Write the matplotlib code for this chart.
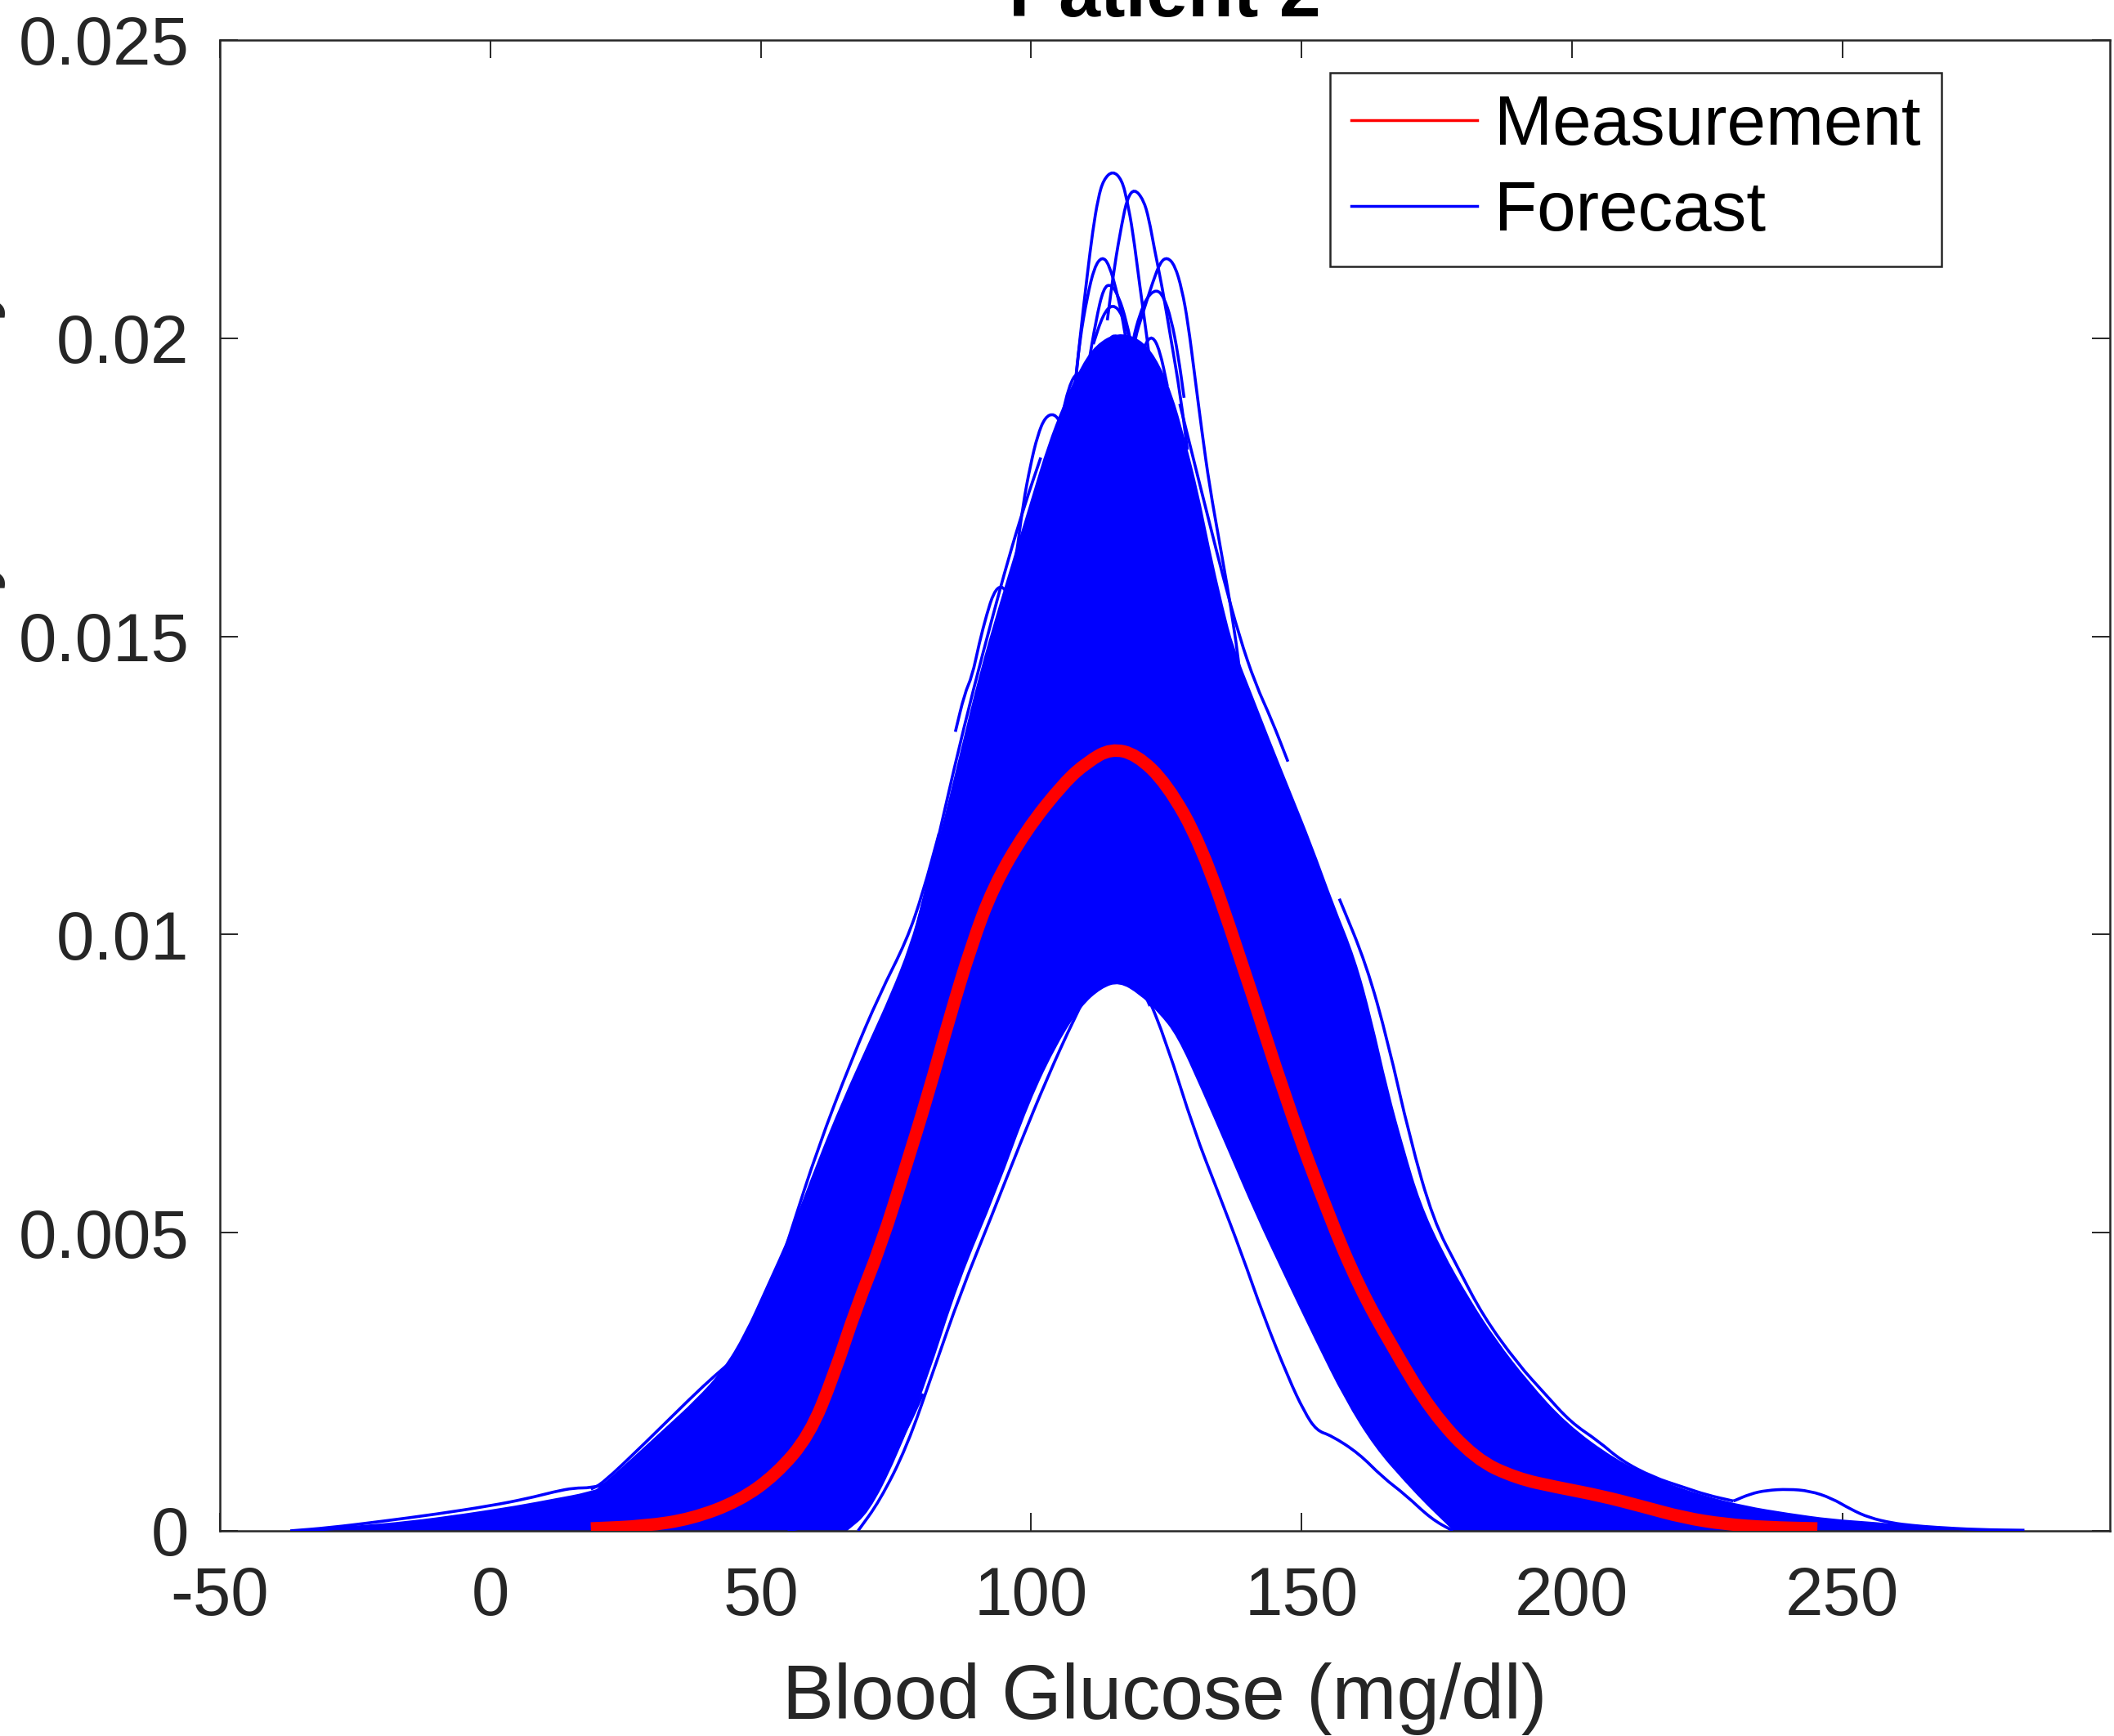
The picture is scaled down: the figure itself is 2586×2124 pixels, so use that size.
import matplotlib
matplotlib.use("Agg")
import matplotlib.pyplot as plt
from matplotlib.lines import Line2D
from matplotlib.path import Path
from matplotlib.patches import PathPatch
import numpy as np

plt.rcParams['font.family'] = ['Liberation Sans', 'DejaVu Sans']

# measured glucose density (red)
meas_x = [18.6, 28.6, 37.2, 46.0, 52.9, 59.0, 63.5, 67.7, 72.3, 76.8, 80.9, 84.9, 88.9,
          93.0, 99.0, 106.1, 110.5, 114.8, 119.5, 125.1, 131.4, 138.4, 147.6, 155.0, 160.6,
          166.7, 174.0, 182.2, 189.8, 197.3, 205.3, 213.0, 220.7, 228.4, 236.2, 245.4]
meas_y = [0.00004, 0.00008, 0.0002, 0.0005, 0.00095, 0.0016, 0.0026, 0.00375, 0.0048,
          0.0061, 0.0073, 0.0086, 0.0098, 0.0108, 0.01174, 0.01255, 0.0129, 0.01312,
          0.01302, 0.01253, 0.01152, 0.0097, 0.0071, 0.0053, 0.0041, 0.0031, 0.0020,
          0.0012, 0.00088, 0.00073, 0.00059, 0.00041, 0.00022, 0.00011, 0.00006, 0.00004]

# dense forecast band: outer edge and edge of the empty area under it
band_outer_x = [-37, -30, -20, -10, 0, 8, 14, 18.6, 21, 26, 32, 38, 43, 47, 51, 55.5, 60.5,
                65, 70, 74, 77.5, 80, 83, 87, 90.5, 94, 97, 100, 103, 106, 109, 112, 116,
                120, 123, 126, 128.5, 131, 133, 135.5, 137.5, 141, 144, 148, 152, 156, 160,
                163, 166, 169, 172, 176, 181, 186, 192, 199, 208, 216, 224, 232, 240, 248,
                256, 264, 272, 283]
band_outer_y = [0, 0.00003, 0.0001, 0.0002, 0.00032, 0.00045, 0.00055, 0.00062, 0.0008,
                0.0012, 0.0017, 0.0022, 0.0027, 0.0033, 0.0041, 0.0050, 0.0062, 0.0072,
                0.0082, 0.0090, 0.0098, 0.0106, 0.0116, 0.0131, 0.0144, 0.0155, 0.0164,
                0.0173, 0.0182, 0.0189, 0.0195, 0.0199, 0.0201, 0.0200, 0.0197, 0.0191,
                0.0183, 0.0174, 0.0165, 0.0155, 0.0148, 0.0140, 0.0133, 0.0124, 0.0115,
                0.0105, 0.0096, 0.0086, 0.0074, 0.0064, 0.0055, 0.0047, 0.0039, 0.0032,
                0.0025, 0.0018, 0.0012, 0.00085, 0.0006, 0.00042, 0.0003, 0.0002, 0.00015,
                0.00008, 0.00004, 0]
band_inner_x = [66, 70, 75, 80.7, 86.7, 93.7, 99.7, 105, 109.3, 113, 116.3, 120, 123.5,
                127, 131.5, 136.3, 141.5, 146.7, 152.5, 158, 163.5, 169.3, 173.5, 177, 178]
band_inner_y = [0, 0.0003, 0.0012, 0.0025, 0.0042, 0.0057, 0.0072, 0.0082, 0.0088, 0.0091,
                0.0092, 0.0090, 0.0087, 0.0083, 0.0074, 0.0064, 0.0053, 0.0043, 0.0032,
                0.0022, 0.0014, 0.0008, 0.0004, 0.0001, 0]

# single forecast curves that stand out of the band
curves = [
    # tall peaks
    ([108.0, 109.0, 110.4, 111.4, 112.4, 113.4, 115.1, 116.8, 117.8, 118.8, 120.1, 121.5, 122.5],
     [0.01905, 0.01997, 0.02107, 0.0218, 0.02235, 0.02266, 0.02281, 0.02266, 0.02229, 0.0218, 0.02088, 0.01997, 0.0192]),
    ([114.1, 115.4, 116.8, 117.8, 119.1, 120.8, 121.8, 122.8, 124.2, 125.9, 127.6, 128.9],
     [0.0203, 0.0212, 0.02193, 0.02235, 0.02251, 0.02232, 0.022, 0.0215, 0.02088, 0.01997, 0.01905, 0.01813]),
    ([108.0, 109.0, 110.4, 111.7, 113.1, 114.4, 116.1, 117.4, 118.5],
     [0.0191, 0.01997, 0.0207, 0.02119, 0.02137, 0.02125, 0.0207, 0.02009, 0.0194]),
    ([118.0, 119.1, 120.8, 122.5, 123.9, 125.2, 126.6, 127.9, 129.0, 130.3, 131.6, 133.0, 135.0, 137.5, 139.1],
     [0.0193, 0.01997, 0.02046, 0.02094, 0.02128, 0.02136, 0.02122, 0.02082, 0.02027, 0.01935, 0.01843, 0.01752, 0.0165, 0.0152, 0.01404]),
    ([117.8, 118.8, 120.1, 121.5, 123.2, 124.5, 125.9, 127.2, 128.3],
     [0.0193, 0.01997, 0.0204, 0.0207, 0.02082, 0.0207, 0.02033, 0.01972, 0.0190]),
    ([109.5, 111.2, 112.7, 114.2, 115.6, 117.0],
     [0.0192, 0.0196, 0.01981, 0.0197, 0.0194, 0.0189]),
    ([110.5, 112.0, 113.4, 114.8, 116.2, 117.6, 119.0],
     [0.0195, 0.0203, 0.02085, 0.02091, 0.02070, 0.0203, 0.0197]),
    ([111.5, 113.3, 115.1, 116.9, 118.5],
     [0.0199, 0.0204, 0.02058, 0.0204, 0.0199]),
    ([113.0, 114.4, 115.8, 117.2, 118.8],
     [0.0196, 0.0200, 0.02006, 0.0199, 0.0195]),
    ([119.5, 121.0, 122.4, 123.8, 125.2],
     [0.0194, 0.0199, 0.02005, 0.0198, 0.0192]),
    ([105.5, 107.0, 108.6, 110.2, 111.8],
     [0.0186, 0.0192, 0.01945, 0.0193, 0.0188]),
    ([95.8, 97.2, 98.5, 99.9, 101.2, 102.6, 104.3, 105.6, 106.6, 108.0],
     [0.01568, 0.01629, 0.01721, 0.01788, 0.01837, 0.01868, 0.01874, 0.01856, 0.01813, 0.0176]),
    ([86.0, 87.7, 89.1, 90.4, 91.8, 93.1, 94.5, 95.8, 97.0],
     [0.0134, 0.01404, 0.01433, 0.01488, 0.01537, 0.01574, 0.01586, 0.0157, 0.0154]),
    # lines along the edges of the band
    ([78.8, 81.8, 85.8, 89.3, 92.8, 95.8, 98.8, 101.8],
     [0.0101, 0.0112, 0.0128, 0.0141, 0.0153, 0.0163, 0.0172, 0.0180]),
    ([127.5, 130.5, 133.0, 135.5, 138.5, 141.5, 144.5, 147.5],
     [0.0189, 0.0178, 0.0169, 0.0160, 0.0150, 0.0142, 0.0136, 0.0129]),
    # left tail and left flank
    ([-37, -30, -20, -10, 0, 6.8, 12, 15.5, 18.6, 22],
     [0, 0.00005, 0.00016, 0.00028, 0.00042, 0.00054, 0.00066, 0.00072, 0.00072, 0.0008]),
    ([-35, -25, -15, -5, 5, 12, 18, 24],
     [0, 0.00006, 0.00014, 0.00026, 0.0004, 0.00052, 0.00062, 0.0008]),
    ([18.6, 20.7, 28.6, 37.3, 41.6, 45.1, 47.5, 50, 53],
     [0.0007, 0.00079, 0.00147, 0.00225, 0.00261, 0.00288, 0.00296, 0.0029, 0.0031]),
    ([52, 55.5, 60.5, 66.8, 72, 77, 80, 83],
     [0.0040, 0.0050, 0.0064, 0.0079, 0.0090, 0.0099, 0.0107, 0.0117]),
    # right flank and right tail
    ([157, 162, 166, 170, 174.4, 179, 183.6, 190, 195, 199.8, 205, 209.1, 215, 220.7, 225, 229.9],
     [0.0106, 0.0095, 0.0082, 0.0066, 0.0052, 0.0044, 0.0036, 0.0028, 0.0023, 0.00182, 0.0015, 0.00118, 0.0009, 0.00073, 0.0006, 0.0005]),
    ([229.9, 233, 236, 240, 244, 248, 251.6, 255, 259.3, 263, 267, 275, 283.7],
     [0.0005, 0.00062, 0.00068, 0.0007, 0.00067, 0.00055, 0.00036, 0.00022, 0.00013, 0.00009, 0.00006, 0.00002, 0.00001]),
    # low curves inside the empty area
    ([118, 121, 125, 130.2, 134.5, 138.9, 143, 147.6, 150.5, 152.8, 155.5, 160.6, 165, 169.3, 174, 178],
     [0.0094, 0.0091, 0.0082, 0.0067, 0.0057, 0.00466, 0.0036, 0.00256, 0.0020, 0.00168, 0.0016, 0.0013, 0.0009, 0.0006, 0.0002, 0.0]),
    ([68, 72, 77, 82, 87, 92.8, 98, 103, 108, 112, 114.6, 117, 119.5, 122],
     [0.0, 0.0005, 0.0014, 0.0027, 0.0040, 0.0053, 0.0065, 0.0076, 0.0086, 0.0093, 0.0096, 0.0096, 0.0093, 0.0088]),
    ([55, 60, 65, 70, 74, 77, 80],
     [0, 0.0001, 0.0003, 0.0007, 0.0012, 0.0017, 0.0023]),
]

xticks = [-50, 0, 50, 100, 150, 200, 250]
xticklabels = ['-50', '0', '50', '100', '150', '200', '250']
yticks = [0, 0.005, 0.01, 0.015, 0.02, 0.025]
yticklabels = ['0', '0.005', '0.01', '0.015', '0.02', '0.025']


def smooth(xs, ys):
    # quadratic bezier through the midpoints, read points act as control points
    pts = np.column_stack([xs, ys]).astype(float)
    verts = [pts[0], (pts[0] + pts[1]) / 2]
    codes = [Path.MOVETO, Path.LINETO]
    for i in range(1, len(pts) - 1):
        verts += [pts[i], (pts[i] + pts[i + 1]) / 2]
        codes += [Path.CURVE3, Path.CURVE3]
    verts.append(pts[-1])
    codes.append(Path.LINETO)
    return verts, codes


W, H = 2586, 2124
fig = plt.figure(figsize=(W / 100, H / 100), dpi=100)
ax = fig.add_axes([269 / W, 1 - 1873 / H, 2312 / W, 1824 / H])

blue = (0, 0, 1)
red = (1, 0, 0)
dark = '#262626'

# band polygon: outer edge left->right, then inner edge right->left
v1, c1 = smooth(band_outer_x, band_outer_y)
v2, c2 = smooth(band_inner_x[::-1], band_inner_y[::-1])
c2[0] = Path.LINETO
verts = v1 + v2 + [v1[0]]
codes = c1 + c2 + [Path.CLOSEPOLY]
ax.add_patch(PathPatch(Path(verts, codes), facecolor=blue, edgecolor='none', zorder=2))

for cx, cy in curves:
    v, c = smooth(cx, cy)
    ax.add_patch(PathPatch(Path(v, c), facecolor='none', edgecolor=blue, lw=2.6, zorder=3))

v, c = smooth(meas_x, meas_y)
ax.add_patch(PathPatch(Path(v, c), facecolor='none', edgecolor=red, lw=11,
                       capstyle='butt', zorder=4))

ax.set_xlim(-50, 299.5)
ax.set_ylim(0, 0.025)
ax.set_xticks(xticks)
ax.set_xticklabels(xticklabels)
ax.set_yticks(yticks)
ax.set_yticklabels(yticklabels)

ax.tick_params(direction='in', length=16, width=1.4, colors=dark, labelsize=60,
               top=True, right=True)
ax.tick_params(axis='x', pad=30)
ax.tick_params(axis='y', pad=27)
for sp in ax.spines.values():
    sp.set_linewidth(1.8)
    sp.set_color(dark)

ax.set_xlabel('Blood Glucose (mg/dl)', fontsize=68, color=dark, labelpad=30)
ax.set_title('Patient 2', fontsize=66, fontweight='bold', pad=21)
fig.text(-12 / W, 1 - 345 / H, 'Probability Density', rotation=90, rotation_mode='anchor',
         ha='right', va='baseline', fontsize=66, color=dark)

handles = [Line2D([], [], color=red, lw=2.5), Line2D([], [], color=blue, lw=2.5)]
leg = ax.legend(handles, ['Measurement', 'Forecast'], loc='upper right',
                bbox_to_anchor=(0.911, 0.978), borderaxespad=0, fontsize=61.5,
                fancybox=False, framealpha=1, edgecolor=dark, handlelength=1.8,
                handletextpad=0.25, labelspacing=0.3, borderpad=0.3)
leg.get_frame().set_linewidth(1.8)

fig.savefig('out.png', dpi=100)
